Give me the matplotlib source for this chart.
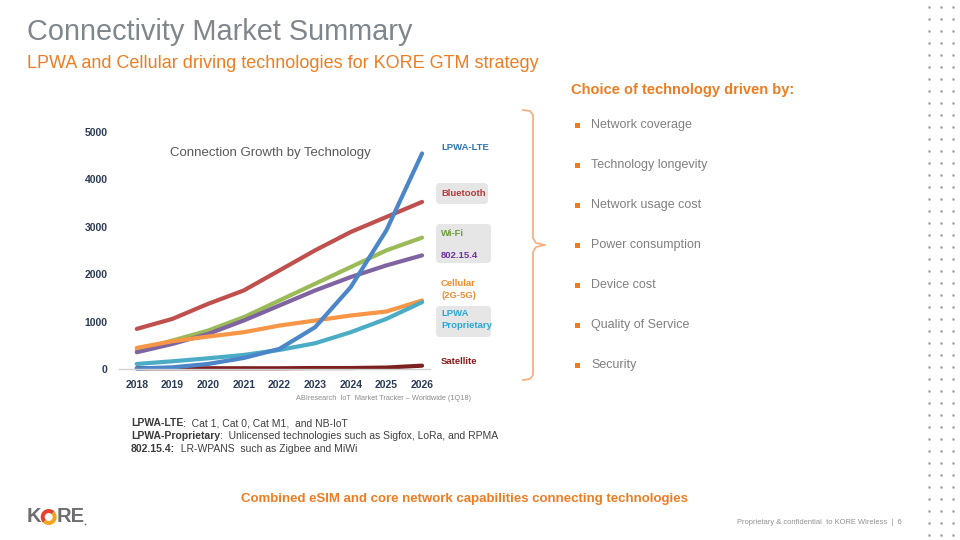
import matplotlib
matplotlib.use('Agg')
import matplotlib.pyplot as plt
from matplotlib.patches import FancyBboxPatch, Rectangle, Wedge

plt.rcParams['font.family'] = ['Liberation Sans', 'DejaVu Sans']

# --- data (thousands of connections, approx) ---
years = [2018, 2019, 2020, 2021, 2022, 2023, 2024, 2025, 2026]
satellite = [15, 15, 15, 15, 15, 20, 20, 30, 70]
bluetooth = [845, 1056, 1373, 1655, 2077, 2500, 2887, 3204, 3521]
wifi = [387, 599, 810, 1092, 1444, 1796, 2148, 2500, 2768]
ieee802154 = [352, 528, 739, 1021, 1338, 1655, 1937, 2183, 2394]
cellular = [444, 585, 683, 775, 915, 1021, 1127, 1211, 1444]
lpwa_lte = [10, 35, 106, 232, 423, 880, 1725, 2923, 4542]
lpwa_prop = [106, 162, 225, 296, 401, 542, 775, 1056, 1408]
y_ticks = [0, 1000, 2000, 3000, 4000, 5000]

bullets = ['Network coverage', 'Technology longevity', 'Network usage cost',
           'Power consumption', 'Device cost', 'Quality of Service', 'Security']

ORANGE = '#ee7d21'
GREY_TXT = '#808080'

fig = plt.figure(figsize=(9.6, 5.4), dpi=100)

# background axes in pixel coordinates (top-left origin)
bg = fig.add_axes([0, 0, 1, 1])
bg.set_xlim(0, 960)
bg.set_ylim(540, 0)
bg.axis('off')

# titles
bg.text(27, 32, 'Connectivity Market Summary', fontsize=20.8, color='#7f868c', va='center')
bg.text(27, 63, 'LPWA and Cellular driving technologies for KORE GTM strategy',
        fontsize=13, color=ORANGE, va='center')

# dot pattern on the right
for cx in [929, 941, 953]:
    ys = [7 + 12 * i for i in range(45)]
    bg.plot([cx] * len(ys), ys, 'o', ms=1.9, color='#a6a6a6', mec='none')

# right side list
bg.text(571, 90, 'Choice of technology driven by:', fontsize=10.5, fontweight='bold',
        color=ORANGE, va='center')
for i, b in enumerate(bullets):
    yy = 125 + 40 * i
    bg.add_patch(Rectangle((574.5, yy - 2.5), 5, 5, color=ORANGE, lw=0))
    bg.text(591, yy, b, fontsize=9, color=GREY_TXT, va='center')

# curly bracket
bx = [523, 530, 533, 533, 536, 545, 536, 533, 533, 530, 523]
by = [110, 111, 115, 238, 243, 245, 247, 252, 375, 379, 380]
bg.plot(bx, by, color='#f4b183', lw=1.3, solid_joinstyle='round')

# series labels next to the line ends
box_kw = dict(boxstyle='round,pad=0,rounding_size=4', fc='#e6e6e6', ec='none')
bg.add_patch(FancyBboxPatch((436, 183), 52, 21, **box_kw))
bg.add_patch(FancyBboxPatch((436, 224), 55, 39, **box_kw))
bg.add_patch(FancyBboxPatch((436, 306), 55, 31, **box_kw))
lab = dict(fontsize=6.8, fontweight='bold', va='center', ha='left')
bg.text(441, 147, 'LPWA-LTE', color='#2e75b6', **lab)
bg.text(441, 193, 'Bluetooth', color='#b83b3b', **lab)
bg.text(441, 234, 'Wi-Fi', color='#6a9a3a', **lab)
bg.text(441, 255, '802.15.4', color='#7030a0', **lab)
bg.text(441, 284, 'Cellular', color='#f08c30', **lab)
bg.text(441, 296, '(2G-5G)', color='#f08c30', **lab)
bg.text(441, 314, 'LPWA', color='#29a8d8', **lab)
bg.text(441, 326, 'Proprietary', color='#29a8d8', **lab)
bg.text(441, 362, 'Satellite', color='#8b1a1a', **lab)

# chart title and source
bg.text(170, 153, 'Connection Growth by Technology', fontsize=9.5, color='#595959', va='center')
bg.text(296, 399, 'ABIresearch  IoT  Market Tracker \u2013 Worldwide (1Q18)', fontsize=5.3,
        color='#8c8c8c', va='center')

# footnotes: bold lead + regular rest
fig.canvas.draw()
rend = fig.canvas.get_renderer()
notes = [('LPWA-LTE', ':  Cat 1, Cat 0, Cat M1,  and NB-IoT'),
         ('LPWA-Proprietary', ':  Unlicensed technologies such as Sigfox, LoRa, and RPMA'),
         ('802.15.4:', '  LR-WPANS  such as Zigbee and MiWi')]
for i, (b, r) in enumerate(notes):
    yy = 426 + 12.8 * i
    t = bg.text(131, yy, b, fontsize=7.5, fontweight='bold', color='#3a3a3a', va='baseline')
    w = t.get_window_extent(rend).width
    bg.text(131 + w, yy, r, fontsize=7.5, color='#404040', va='baseline')

bg.text(464, 499, 'Combined eSIM and core network capabilities connecting technologies',
        fontsize=9.5, fontweight='bold', color=ORANGE, va='center', ha='center')
bg.text(902, 523, 'Proprietary & confidential  to KORE Wireless  |  6', fontsize=5.4,
        color='#909090', va='center', ha='right')

# KORE logo
bg.text(27, 517, 'K', fontsize=14.5, fontweight='bold', color='#6d6e71', va='center')
bg.add_patch(Wedge((48.7, 517), 8, 135, 315, width=4, color='#e8402c', lw=0))
bg.add_patch(Wedge((48.7, 517), 8, -45, 135, width=4, color='#f6a31c', lw=0))
bg.text(57, 517, 'RE', fontsize=14.5, fontweight='bold', color='#6d6e71', va='center')
bg.plot([84.5], [524], 'o', ms=1.3, color='#6d6e71', mec='none')

# --- the line chart ---
ax = fig.add_axes([0.1239, 0.3167, 0.3243, 0.4394])
ax.patch.set_alpha(0)
series = [
    (satellite, '#7b1f1f'),
    (bluetooth, '#c0504d'),
    (wifi, '#9bbb59'),
    (ieee802154, '#8064a2'),
    (cellular, '#f79646'),
    (lpwa_prop, '#4bacc6'),
    (lpwa_lte, '#4a86c8'),
]
for vals, col in series:
    ax.plot(years, vals, color=col, lw=3, solid_capstyle='round',
            solid_joinstyle='round', clip_on=False)

ax.set_xlim(2017.5, 2026.23)
ax.set_ylim(0, 5000)
ax.set_xticks(years)
ax.set_yticks(y_ticks)
ax.tick_params(length=0, labelsize=7.5, labelcolor='#2b3b55')
ax.tick_params(axis='x', pad=8)
ax.tick_params(axis='y', pad=8)
for lbl in ax.get_xticklabels() + ax.get_yticklabels():
    lbl.set_fontweight('bold')
for s in ['top', 'right', 'left']:
    ax.spines[s].set_visible(False)
ax.spines['bottom'].set_color('#d0d0d0')
ax.spines['bottom'].set_linewidth(1)

fig.savefig('out.png', dpi=100)
